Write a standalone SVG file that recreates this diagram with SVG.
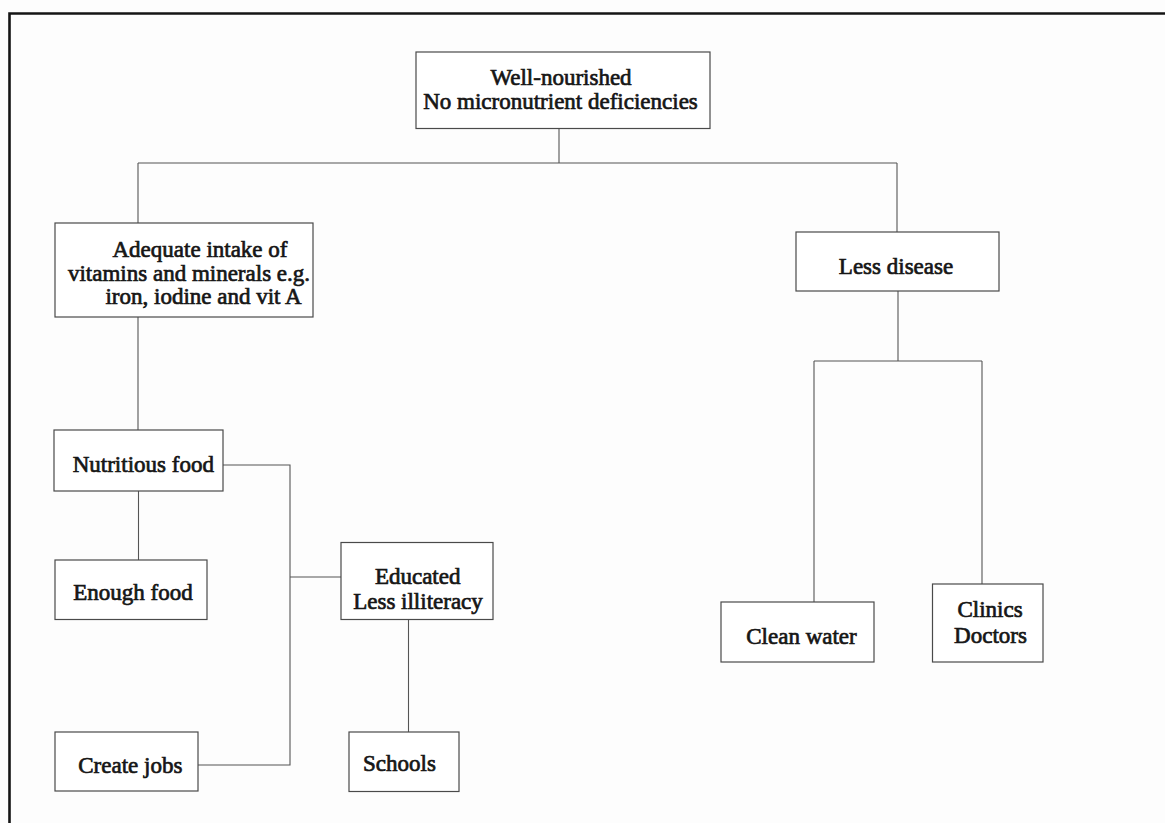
<svg xmlns="http://www.w3.org/2000/svg" width="1165" height="823" viewBox="0 0 1165 823">
  <style>
    .box { fill: #ffffff; stroke: #4a4a4a; stroke-width: 1.2; }
    .lbl { font-family: "Liberation Serif", "Times New Roman", serif; font-size: 23px; fill: #161616; stroke: #161616; stroke-width: 0.7; text-anchor: middle; }
    .wire { fill: none; stroke: #555555; stroke-width: 1.1; }
    .frame { fill: none; stroke: #151515; stroke-width: 2.6; }
  </style>

  <!-- page background and frame -->
  <rect x="0" y="0" width="1165" height="823" fill="#fdfdfd"/>
  <path class="frame" d="M9.5 823 V13.5 H1165"/>

  <!-- connectors -->
  <g id="connectors">
    <path class="wire" d="M559 128.5 V163"/>
    <path class="wire" d="M138 163 H897"/>
    <path class="wire" d="M138 163 V223"/>
    <path class="wire" d="M897 163 V232"/>
    <path class="wire" d="M138 317 V430"/>
    <path class="wire" d="M138.5 491 V560"/>
    <path class="wire" d="M223 465 H290 V765 H198"/>
    <path class="wire" d="M290 577 H341"/>
    <path class="wire" d="M408.5 619 V732"/>
    <path class="wire" d="M898 291 V361"/>
    <path class="wire" d="M814 361 H982"/>
    <path class="wire" d="M814 361 V602"/>
    <path class="wire" d="M982 361 V584"/>
  </g>

  <g id="well-nourished">
    <rect class="box" x="416" y="52" width="294" height="76.5"/>
    <text class="lbl" x="561" y="84.5">Well-nourished</text>
    <text class="lbl" x="560.5" y="109">No micronutrient deficiencies</text>
  </g>

  <g id="adequate-intake">
    <rect class="box" x="55" y="223" width="258" height="94"/>
    <text class="lbl" x="200" y="256.5">Adequate intake of</text>
    <text class="lbl" x="189" y="280.5">vitamins and minerals e.g.</text>
    <text class="lbl" x="203.5" y="304">iron, iodine and vit A</text>
  </g>

  <g id="less-disease">
    <rect class="box" x="796" y="232" width="203" height="59"/>
    <text class="lbl" x="896" y="273.5">Less disease</text>
  </g>

  <g id="nutritious-food">
    <rect class="box" x="54" y="430" width="169" height="61"/>
    <text class="lbl" x="143.3" y="471.5">Nutritious food</text>
  </g>

  <g id="enough-food">
    <rect class="box" x="55" y="560" width="152" height="59.5"/>
    <text class="lbl" x="133" y="600">Enough food</text>
  </g>

  <g id="educated">
    <rect class="box" x="341" y="542.5" width="152" height="77"/>
    <text class="lbl" x="417.7" y="584">Educated</text>
    <text class="lbl" x="418" y="609">Less illiteracy</text>
  </g>

  <g id="create-jobs">
    <rect class="box" x="55" y="732" width="143" height="59"/>
    <text class="lbl" x="130.3" y="772.5">Create jobs</text>
  </g>

  <g id="schools">
    <rect class="box" x="349" y="732" width="110" height="59.5"/>
    <text class="lbl" x="399.5" y="771">Schools</text>
  </g>

  <g id="clean-water">
    <rect class="box" x="721" y="602" width="153" height="60"/>
    <text class="lbl" x="801.5" y="644">Clean water</text>
  </g>

  <g id="clinics-doctors">
    <rect class="box" x="932.5" y="584" width="110.5" height="78"/>
    <text class="lbl" x="990" y="617">Clinics</text>
    <text class="lbl" x="990.5" y="642.5">Doctors</text>
  </g>
</svg>
